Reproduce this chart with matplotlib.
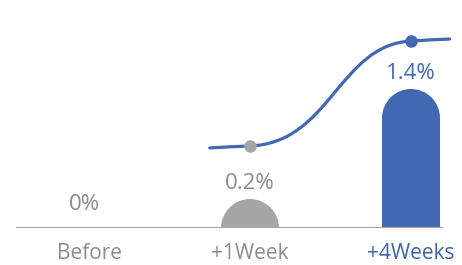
import matplotlib
matplotlib.use("Agg")
import matplotlib.pyplot as plt
from matplotlib.patches import Rectangle, Ellipse, PathPatch
from matplotlib.path import Path

# values for each period (percent)
categories = ["Before", "+1Week", "+4Weeks"]
values = [0.0, 0.2, 1.4]
bar_colors = ["#a6a6a6", "#a6a6a6", "#4169b3"]
label_colors = ["#8c8c8c", "#8c8c8c", "#4169b3"]
tick_colors = ["#8c8c8c", "#8c8c8c", "#3a63ad"]

# trend line levels at +1Week and +4Weeks (data units)
trend_x = [1, 2]
trend_y = [0.826, 1.883]

BLUE = "#4169b3"
GRAY = "#a6a6a6"

plt.rcParams["font.family"] = ["Open Sans", "DejaVu Sans"]

fig = plt.figure(figsize=(4.62, 2.65), dpi=100)
ax = fig.add_axes([0, 37 / 265, 1, 228 / 265])
ax.set_xlim(-89 / 161, (462 - 89) / 161)
ax.set_ylim(0, 228 / 99.3)

w = 0.36   # bar width
r = 0.292  # radius of rounded top in y units

clip = Rectangle((-1, 0), 5, 5, transform=ax.transData)
for i, v in enumerate(values):
    if v > 0:
        c = max(v - r, 0)
        if c > 0:
            ax.add_patch(Rectangle((i - w / 2, 0), w, c, color=bar_colors[i], lw=0))
        e = Ellipse((i, c), w, 2 * r, color=bar_colors[i], lw=0)
        ax.add_patch(e)
        e.set_clip_path(clip)
        top = max(v, r)
        ax.annotate(f"{v:g}%", (i, top), xytext=(0, 3.5), textcoords="offset points",
                    ha="center", va="bottom", fontsize=16, color=label_colors[i])
    else:
        ax.annotate(f"{v:g}%", (i - 0.03, 0), xytext=(0, 9.5), textcoords="offset points",
                    ha="center", va="bottom", fontsize=16, color=label_colors[i])

# baseline
ax.axhline(0, xmin=17 / 462, xmax=442 / 462, color=GRAY, lw=1.6, zorder=1)

# smooth trend curve
x1, x2 = trend_x
y1, y2 = trend_y
verts = [(x1 - 0.25, y1 - 0.02), (x1 - 0.16, y1 - 0.012), (x1 - 0.08, y1 - 0.004), (x1, y1),
         (x1 + 0.5, y1 + 0.03), (x2 - 0.45, y2 - 0.04), (x2, y2),
         (x2 + 0.08, y2 + 0.007), (x2 + 0.16, y2 + 0.016), (x2 + 0.24, y2 + 0.02)]
codes = [Path.MOVETO] + [Path.CURVE4] * 9
ax.add_patch(PathPatch(Path(verts, codes), fill=False, edgecolor=BLUE, lw=2.3,
                       capstyle="round", zorder=3))
ax.plot(trend_x[0], trend_y[0], "o", color=GRAY, ms=8, zorder=4)
ax.plot(trend_x[1], trend_y[1], "o", color=BLUE, ms=8, zorder=4)

ax.set_xticks(range(len(categories)), categories, fontsize=15)
for lbl, col in zip(ax.get_xticklabels(), tick_colors):
    lbl.set_color(col)
ax.tick_params(axis="x", length=0, pad=11)
ax.set_yticks([])
for s in ax.spines.values():
    s.set_visible(False)

fig.savefig("out.png", dpi=100)
